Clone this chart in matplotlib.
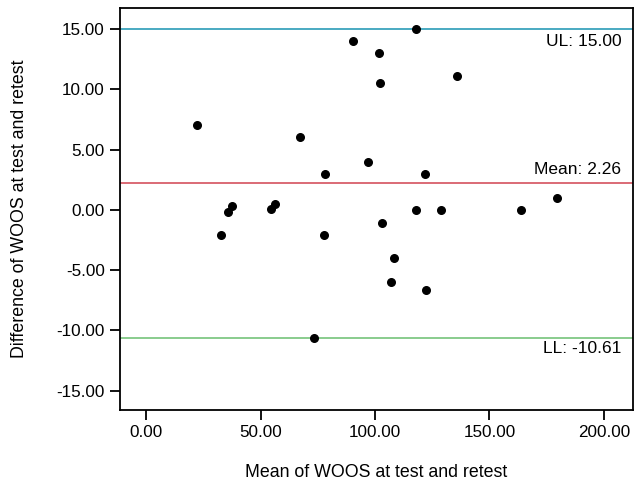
import numpy as np
import matplotlib
matplotlib.use('Agg')
import matplotlib.pyplot as plt

# Bland-Altman data: mean of test/retest vs difference
mean_vals = [22.3, 32.8, 35.8, 37.5, 54.6, 56.3, 67.2, 73.4, 78.2, 77.7,
             90.4, 97.0, 101.6, 102.3, 103.2, 118.0, 117.8, 121.7, 129.0,
             135.8, 163.6, 179.6, 108.2, 107.1, 122.1]
diff_vals = [7.0, -2.1, -0.17, 0.33, 0.1, 0.5, 6.06, -10.6, 3.0, -2.1,
             14.0, 3.96, 12.98, 10.49, -1.05, 15.0, 0.0, 2.96, 0.0,
             11.1, 0.0, 0.97, -4.0, -5.95, -6.65]
ul, mean_diff, ll = 15.00, 2.26, -10.61
xticks = [0, 50, 100, 150, 200]
yticks = [-15, -10, -5, 0, 5, 10, 15]

plt.rcParams['font.family'] = ['Liberation Sans', 'DejaVu Sans']
fig = plt.figure(figsize=(6.44, 4.92), dpi=100)
ax = fig.add_axes([120 / 644, 1 - 410 / 492, 513 / 644, 402 / 492])

ax.axhline(ul, color='#2a9cb8', linewidth=1.2, zorder=1)
ax.axhline(mean_diff, color='#d4525e', linewidth=1.2, zorder=1)
ax.axhline(ll, color='#76c47a', linewidth=1.2, zorder=1)
ax.scatter(mean_vals, diff_vals, s=30, color='black', zorder=3)

tr = ax.get_yaxis_transform()
ax.text(0.977, ul - 0.45, 'UL: %.2f' % ul, transform=tr,
        ha='right', va='top', fontsize=12.5)
ax.text(0.977, mean_diff + 0.45, 'Mean: %.2f' % mean_diff, transform=tr,
        ha='right', va='bottom', fontsize=12.5)
ax.text(0.977, ll - 0.25, 'LL: %.2f' % ll, transform=tr,
        ha='right', va='top', fontsize=12.5)

ax.set_xlim(-11.4, 212.7)
ax.set_ylim(-16.6, 16.74)
ax.set_xticks(xticks)
ax.set_yticks(yticks)
ax.set_xticklabels(['%.2f' % t for t in xticks], fontsize=12.3)
ax.set_yticklabels(['%.2f' % t for t in yticks], fontsize=12.3)
ax.tick_params(direction='out', length=7, width=1.3, pad=4)
for s in ax.spines.values():
    s.set_linewidth(1.3)
ax.set_xlabel('Mean of WOOS at test and retest', fontsize=12.8)
ax.set_ylabel('Difference of WOOS at test and retest', fontsize=12.8)
ax.xaxis.set_label_coords(0.5, -0.135)
ax.yaxis.set_label_coords(-0.18, 0.5)

fig.savefig('out.png', dpi=100)
